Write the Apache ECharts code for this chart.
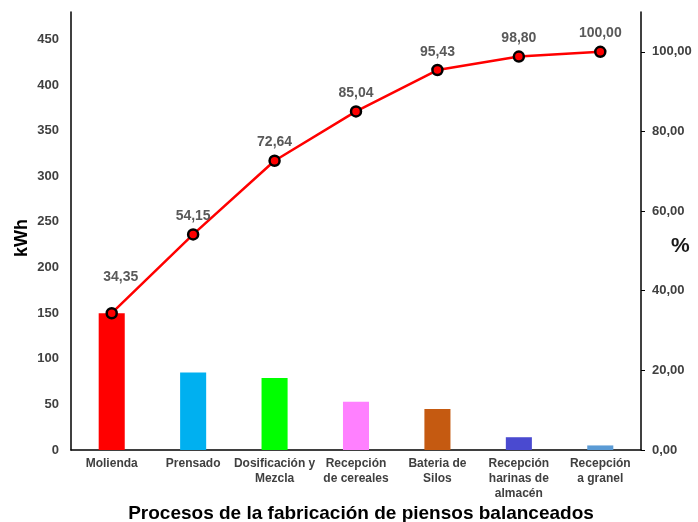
<!DOCTYPE html>
<html>
<head>
<meta charset="utf-8">
<script src="https://cdn.jsdelivr.net/npm/echarts@6/dist/echarts.min.js"></script>
<style>
  html, body { margin: 0; padding: 0; background: #fff; }
  #chart { width: 698px; height: 522px; }
</style>
</head>
<body>
<div id="chart"></div>
<script>
  // datos
  var procesos = ['Molienda', 'Prensado', 'Dosificación y\nMezcla', 'Recepción\nde cereales',
    'Bateria de\nSilos', 'Recepción\nharinas de\nalmacén', 'Recepción\na granel'];
  var consumoKwh = [150, 85, 79, 53, 45, 14, 5];
  var acumuladoPct = [34.35, 54.15, 72.64, 85.04, 95.43, 98.80, 100.00];
  var coloresBarras = ['#ff0000', '#00b0f0', '#00ff00', '#ff80ff', '#c55a11', '#4a4ad0', '#5b9bd5'];

  var fuente = 'Liberation Sans, Arial, sans-serif';
  function coma(v) { return Number(v).toFixed(2).replace('.', ','); }

  var myChart = echarts.init(document.getElementById('chart'));
  myChart.setOption({
    backgroundColor: '#fff',
    animation: false,
    textStyle: { fontFamily: fuente },
    grid: { left: 71, right: 57, top: 12, bottom: 72, outerBoundsMode: 'none', containLabel: false },
    xAxis: {
      type: 'category',
      data: procesos,
      name: 'Procesos de la fabricación de piensos balanceados',
      nameLocation: 'middle',
      nameGap: 54,
      nameMoveOverlap: false,
      nameTextStyle: { fontSize: 19, fontWeight: 'bold', color: '#000', padding: [0, 0, 0, 10] },
      axisLine: { lineStyle: { color: '#000', width: 1.5 } },
      axisTick: { show: false },
      axisLabel: {
        margin: 6, interval: 0, fontSize: 12, fontWeight: 'bold', color: '#404040', lineHeight: 15
      }
    },
    yAxis: [{
      type: 'value',
      min: 0, max: 480, interval: 50,
      name: 'kWh',
      nameLocation: 'middle',
      nameGap: 40,
      nameMoveOverlap: false,
      nameRotate: 90,
      nameTextStyle: { fontSize: 18, fontWeight: 'bold', color: '#000', padding: [0, 14, 0, 0] },
      axisLine: { show: true, lineStyle: { color: '#000', width: 1.5 } },
      axisTick: { show: false },
      splitLine: { show: false },
      axisLabel: { margin: 12, fontSize: 13, fontWeight: 'bold', color: '#404040', showMaxLabel: false }
    }, {
      type: 'value',
      min: 0, max: 110, interval: 20,
      axisLine: { show: true, lineStyle: { color: '#000', width: 1.5 } },
      axisTick: { show: true, length: 4, lineStyle: { color: '#000' } },
      splitLine: { show: false },
      axisLabel: {
        margin: 11, fontSize: 13, fontWeight: 'bold', color: '#404040', showMaxLabel: false,
        formatter: coma
      }
    }],
    // nombre del eje derecho
    graphic: [{
      type: 'text',
      left: 671,
      top: 236,
      style: { text: '%', font: 'bold 21px Liberation Sans, Arial, sans-serif', fill: '#1a1a1a' }
    }],
    series: [{
      name: 'kWh',
      type: 'bar',
      barWidth: '32%',
      data: consumoKwh,
      itemStyle: {
        color: function (p) { return coloresBarras[p.dataIndex]; }
      }
    }, {
      name: '%',
      type: 'line',
      yAxisIndex: 1,
      data: acumuladoPct,
      symbol: 'circle',
      symbolSize: 10,
      lineStyle: { color: '#ff0000', width: 2.5 },
      itemStyle: { color: '#ff0000', borderColor: '#000', borderWidth: 2.5 },
      label: {
        show: true,
        position: 'top',
        distance: 5,
        offset: [-9, 0],
        fontSize: 14,
        fontWeight: 'bold',
        color: '#595959',
        formatter: function (p) { return coma(p.value); }
      },
      labelLayout: function (p) {
        if (p.dataIndex === 0) return { dy: -18, dx: 9 };
        return {};
      },
      z: 5
    }]
  });
</script>
</body>
</html>
